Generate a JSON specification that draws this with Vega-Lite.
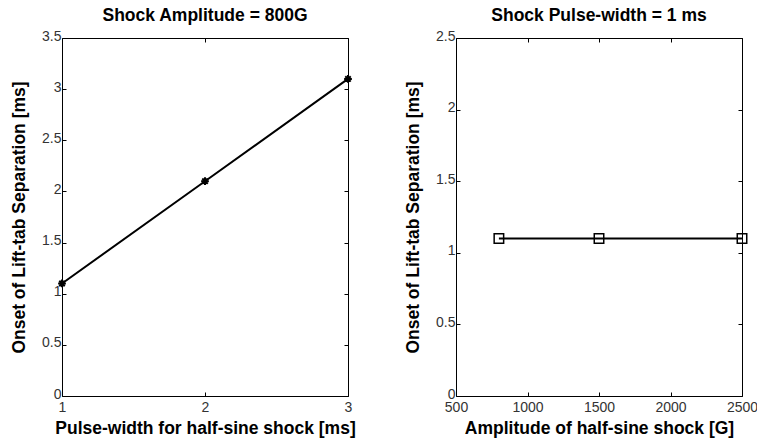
{
  "$schema": "https://vega.github.io/schema/vega-lite/v6.json",
  "background": "white",
  "padding": {"left": 10, "top": 6, "right": 5, "bottom": 5},
  "spacing": 47,
  "config": {
    "view": {"stroke": "black", "strokeWidth": 1},
    "font": "Liberation Sans",
    "axis": {
      "grid": false,
      "domain": false,
      "tickColor": "black",
      "tickSize": -4,
      "labelFont": "Liberation Sans",
      "labelFontSize": 14,
      "labelColor": "#333",
      "labelFlush": false,
      "labelOverlap": false,
      "labelBound": false,
      "titleFont": "Liberation Sans",
      "titleFontSize": 17.5,
      "titleFontWeight": "bold",
      "titleColor": "black",
      "labelPadding": 5
    },
    "title": {"font": "Liberation Sans", "fontSize": 17.5, "fontWeight": "bold", "color": "black", "offset": 5}
  },
  "hconcat": [
    {
      "title": "Shock Amplitude = 800G",
      "width": 286,
      "height": 358,
      "data": {"values": [
        {"pw": 1, "onset": 1.1},
        {"pw": 2, "onset": 2.1},
        {"pw": 3, "onset": 3.1}
      ]},
      "resolve": {"axis": {"x": "independent", "y": "independent"}},
      "layer": [
        {
          "mark": {"type": "line", "color": "black", "strokeWidth": 2},
          "encoding": {
            "x": {"field": "pw", "type": "quantitative", "scale": {"domain": [1, 3], "nice": false, "zero": false},
                  "axis": {"title": "Pulse-width for half-sine shock [ms]", "values": [1, 2, 3], "format": "~g", "titlePadding": 5, "labelPadding": 8}},
            "y": {"field": "onset", "type": "quantitative", "scale": {"domain": [0, 3.5], "nice": false},
                  "axis": {"title": "Onset of Lift-tab Separation [ms]", "values": [0, 0.5, 1, 1.5, 2, 2.5, 3, 3.5], "format": "~g", "titlePadding": 13, "labelOffset": -2}}
          }
        },
        {
          "mark": {"type": "point", "filled": false, "color": "black", "strokeWidth": 2, "size": 60, "opacity": 1,
                   "shape": "M -1 0 L 1 0 M 0 -1 L 0 1 M -0.7 -0.7 L 0.7 0.7 M -0.7 0.7 L 0.7 -0.7"},
          "encoding": {
            "x": {"field": "pw", "type": "quantitative", "scale": {"domain": [1, 3], "nice": false, "zero": false},
                  "axis": {"orient": "top", "labels": false, "title": null, "values": [1, 2, 3]}},
            "y": {"field": "onset", "type": "quantitative", "scale": {"domain": [0, 3.5], "nice": false},
                  "axis": {"orient": "right", "labels": false, "title": null, "values": [0, 0.5, 1, 1.5, 2, 2.5, 3, 3.5]}}
          }
        }
      ]
    },
    {
      "title": "Shock Pulse-width = 1 ms",
      "width": 286,
      "height": 358,
      "data": {"values": [
        {"amp": 800, "onset": 1.1},
        {"amp": 1500, "onset": 1.1},
        {"amp": 2500, "onset": 1.1}
      ]},
      "resolve": {"axis": {"x": "independent", "y": "independent"}},
      "layer": [
        {
          "mark": {"type": "line", "color": "black", "strokeWidth": 2},
          "encoding": {
            "x": {"field": "amp", "type": "quantitative", "scale": {"domain": [500, 2500], "nice": false, "zero": false},
                  "axis": {"title": "Amplitude of half-sine shock [G]", "values": [500, 1000, 1500, 2000, 2500], "format": "d", "titlePadding": 5, "labelPadding": 8}},
            "y": {"field": "onset", "type": "quantitative", "scale": {"domain": [0, 2.5], "nice": false},
                  "axis": {"title": "Onset of Lift-tab Separation [ms]", "values": [0, 0.5, 1, 1.5, 2, 2.5], "format": "~g", "titlePadding": 13, "labelOffset": -2}}
          }
        },
        {
          "mark": {"type": "point", "shape": "square", "filled": false, "color": "black", "strokeWidth": 1.5, "size": 90, "opacity": 1},
          "encoding": {
            "x": {"field": "amp", "type": "quantitative", "scale": {"domain": [500, 2500], "nice": false, "zero": false},
                  "axis": {"orient": "top", "labels": false, "title": null, "values": [500, 1000, 1500, 2000, 2500]}},
            "y": {"field": "onset", "type": "quantitative", "scale": {"domain": [0, 2.5], "nice": false},
                  "axis": {"orient": "right", "labels": false, "title": null, "values": [0, 0.5, 1, 1.5, 2, 2.5]}}
          }
        }
      ]
    }
  ]
}
